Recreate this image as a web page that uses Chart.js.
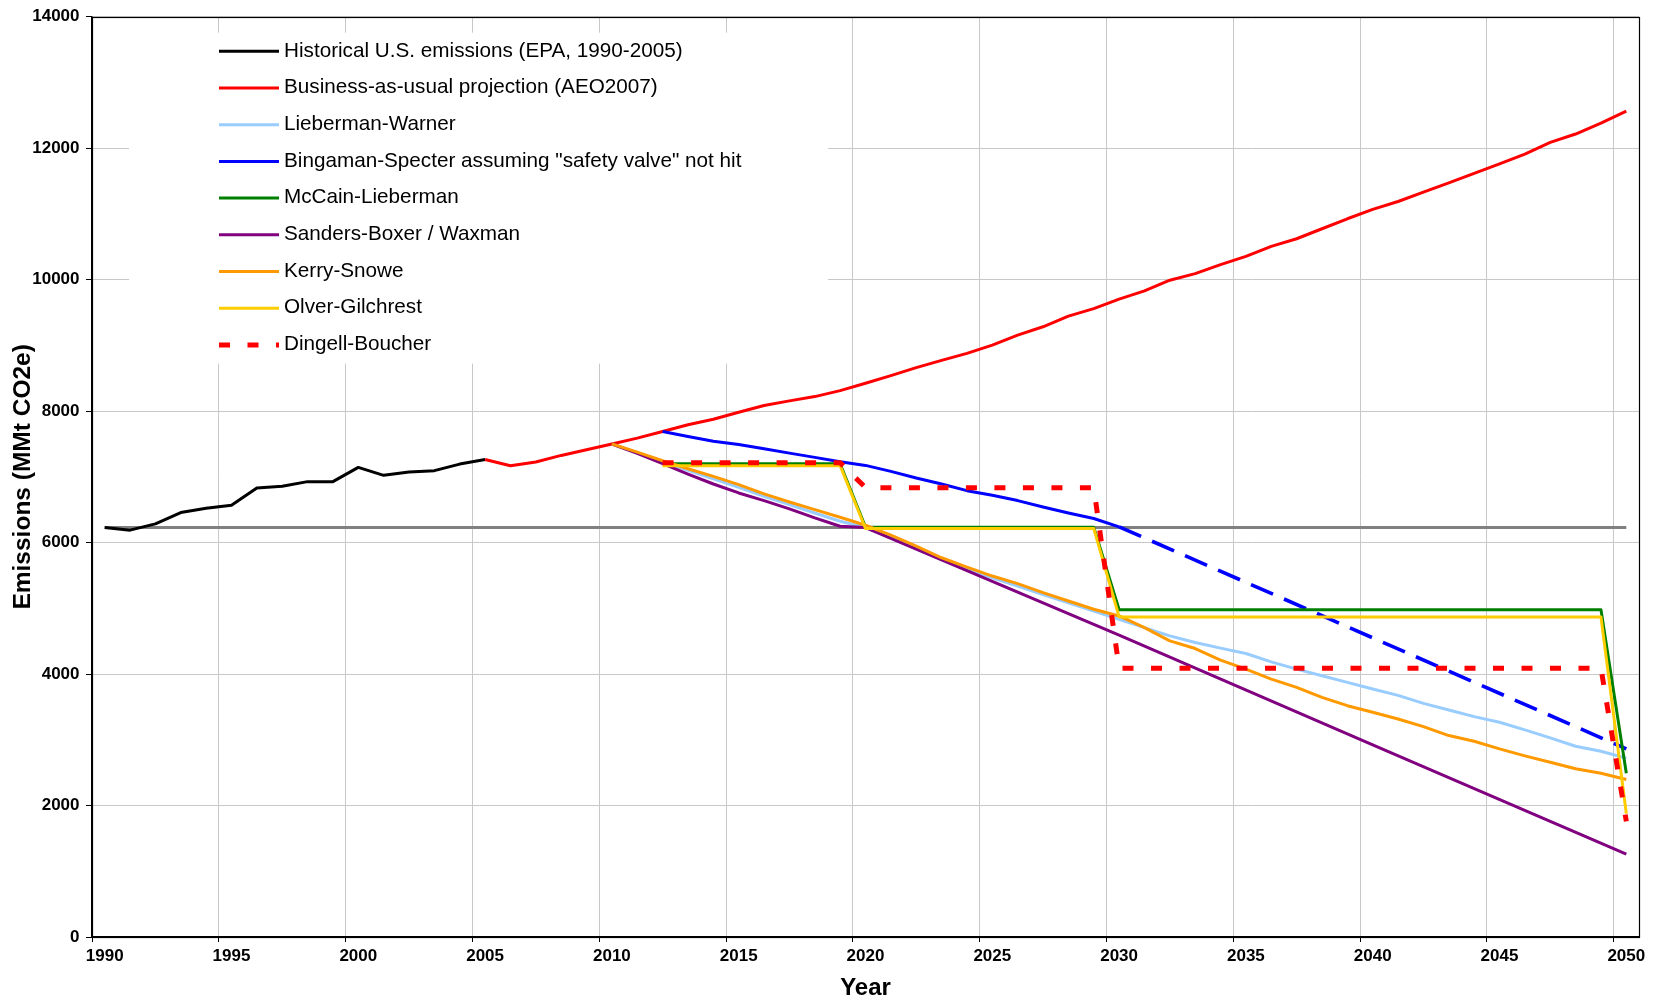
<!DOCTYPE html>
<html>
<head>
<meta charset="utf-8">
<script src="https://cdn.jsdelivr.net/npm/chart.js@4.4.0/dist/chart.umd.min.js"></script>
<style>
html,body{margin:0;padding:0;background:#ffffff;overflow:hidden}
#wrap{width:1655px;height:1001px;position:relative}
</style>
</head>
<body>
<div id="wrap"><canvas id="c" width="1655" height="1001"></canvas></div>
<script>
// ---------- DATA ----------
const categories = ['1990','1991','1992','1993','1994','1995','1996','1997','1998','1999',
  '2000','2001','2002','2003','2004','2005','2006','2007','2008','2009',
  '2010','2011','2012','2013','2014','2015','2016','2017','2018','2019',
  '2020','2021','2022','2023','2024','2025','2026','2027','2028','2029',
  '2030','2031','2032','2033','2034','2035','2036','2037','2038','2039',
  '2040','2041','2042','2043','2044','2045','2046','2047','2048','2049','2050'];

const baselineYears  = ['1990','2050'];
const baselineValues = [6229, 6229];

const historicalYears  = ['1990','1991','1992','1993','1994','1995','1996','1997','1998','1999','2000','2001','2002','2003','2004','2005'];
const historicalValues = [6229, 6189, 6284, 6457, 6522, 6568, 6830, 6856, 6927, 6927, 7144, 7023, 7073, 7094, 7194, 7265];

const bauYears  = ['2005','2006','2007','2008','2009','2010','2011','2012','2013','2014','2015','2016','2017','2018','2019',
  '2020','2021','2022','2023','2024','2025','2026','2027','2028','2029','2030','2031','2032','2033','2034','2035',
  '2036','2037','2038','2039','2040','2041','2042','2043','2044','2045','2046','2047','2048','2049','2050'];
const bauValues = [7265, 7170, 7225, 7326, 7412, 7500, 7589, 7690, 7792, 7877, 7983, 8085, 8156, 8221, 8312,
  8423, 8540, 8661, 8772, 8878, 9005, 9157, 9283, 9445, 9560, 9703, 9829, 9991, 10091, 10228, 10355,
  10507, 10622, 10774, 10926, 11068, 11189, 11330, 11471, 11618, 11760, 11911, 12089, 12215, 12381, 12565];

const lwYears  = ['2010','2011','2012','2013','2014','2015','2016','2017','2018','2019',
  '2020','2021','2022','2023','2024','2025','2026','2027','2028','2029',
  '2030','2031','2032','2033','2034','2035','2036','2037','2038','2039',
  '2040','2041','2042','2043','2044','2045','2046','2047','2048','2049','2050'];
const lwValues = [7500, 7365, 7232, 7100, 6968, 6840, 6705, 6578, 6450, 6325,
  6229, 6075, 5905, 5745, 5600, 5465, 5340, 5210, 5085, 4960,
  4834, 4707, 4581, 4479, 4394, 4313, 4186, 4075, 3974, 3873,
  3772, 3676, 3554, 3453, 3352, 3266, 3150, 3029, 2902, 2826, 2720];

const bsYears  = ['2012','2013','2014','2015','2016','2017','2018','2019','2020','2021',
  '2022','2023','2024','2025','2026','2027','2028','2029','2030','2050'];
const bsValues = [7690, 7614, 7543, 7493, 7427, 7361, 7296, 7230, 7174, 7083,
  6982, 6891, 6790, 6719, 6639, 6542, 6451, 6366, 6240, 2862];
const bsSafetyValveFrom = '2030';   // dashed part of the Bingaman-Specter line starts here

const mlYears  = ['2012','2019','2020','2029','2030','2049','2050'];
const mlValues = [7200, 7200, 6235, 6235, 4980, 4980, 2492];

const sbYears  = ['2010','2011','2012','2013','2014','2015','2016','2017','2018','2019','2020','2030','2040','2050'];
const sbValues = [7500, 7357, 7200, 7043, 6891, 6755, 6639, 6512, 6375, 6249, 6229, 4593, 2924, 1259];

const ksYears  = lwYears;
const ksValues = [7500, 7377, 7245, 7124, 7008, 6882, 6740, 6618, 6502, 6386,
  6264, 6113, 5946, 5769, 5627, 5491, 5375, 5238, 5112, 4986,
  4884, 4707, 4505, 4388, 4212, 4075, 3924, 3797, 3645, 3519,
  3418, 3317, 3200, 3064, 2978, 2862, 2756, 2659, 2559, 2492, 2395];

const ogYears  = ['2012','2019','2020','2029','2030','2049','2050'];
const ogValues = [7170, 7170, 6215, 6215, 4869, 4869, 1876];

const dbYears  = ['2012','2019','2020','2029','2030','2049','2050'];
const dbValues = [7215, 7215, 6836, 6836, 4090, 4090, 1760];

const yTickValues = [0, 2000, 4000, 6000, 8000, 10000, 12000, 14000];

// ---------- CHART ----------
const FONT = '"Liberation Sans", Arial, Helvetica, sans-serif';
Chart.defaults.font.family = FONT;
Chart.defaults.color = '#000';

function pts(years, values) { return years.map((y, k) => ({x: y, y: values[k]})); }

const base = {pointRadius: 0, pointHoverRadius: 0, tension: 0, fill: false,
  borderJoinStyle: 'round', borderCapStyle: 'butt'};

const datasets = [
  Object.assign({}, base, {label: 'baseline', legendSkip: true, data: pts(baselineYears, baselineValues),
    borderColor: '#808080', borderWidth: 3, order: 100}),
  Object.assign({}, base, {label: 'Historical U.S. emissions (EPA, 1990-2005)', data: pts(historicalYears, historicalValues),
    borderColor: '#000000', borderWidth: 3, order: 20}),
  Object.assign({}, base, {label: 'Business-as-usual projection (AEO2007)', data: pts(bauYears, bauValues),
    borderColor: '#FF0000', borderWidth: 3, order: 19}),
  Object.assign({}, base, {label: 'Lieberman-Warner', data: pts(lwYears, lwValues),
    borderColor: '#99CCFF', borderWidth: 3, order: 18}),
  Object.assign({}, base, {label: 'Bingaman-Specter assuming "safety valve" not hit', data: pts(bsYears, bsValues),
    borderColor: '#0000FF', borderWidth: 3, order: 17,
    segment: {
      borderDash: c => (bsYears[c.p0DataIndex] >= bsSafetyValveFrom ? [24, 12] : undefined),
      borderWidth: c => (bsYears[c.p0DataIndex] >= bsSafetyValveFrom ? 3.6 : undefined)
    }}),
  Object.assign({}, base, {label: 'McCain-Lieberman', data: pts(mlYears, mlValues),
    borderColor: '#008000', borderWidth: 3, order: 16}),
  Object.assign({}, base, {label: 'Sanders-Boxer / Waxman', data: pts(sbYears, sbValues),
    borderColor: '#800080', borderWidth: 3, order: 15}),
  Object.assign({}, base, {label: 'Kerry-Snowe', data: pts(ksYears, ksValues),
    borderColor: '#FF9900', borderWidth: 3, order: 14}),
  Object.assign({}, base, {label: 'Olver-Gilchrest', data: pts(ogYears, ogValues),
    borderColor: '#FFCC00', borderWidth: 3, order: 13}),
  Object.assign({}, base, {label: 'Dingell-Boucher', data: pts(dbYears, dbValues),
    borderColor: '#FF0000', borderWidth: 5, borderDash: [11, 17.5], borderJoinStyle: 'miter', order: 12})
];

const legendPlugin = {
  id: 'boxLegend',
  beforeDatasetsDraw(chart) {
    const ctx = chart.ctx;
    const a = chart.chartArea;
    ctx.save();
    // white legend panel covering the gridlines
    const bx = a.left + 37, by = a.top + 16, bw = 699, bh = 331;
    ctx.fillStyle = '#ffffff';
    ctx.fillRect(bx, by, bw, bh);
    const x0 = a.left + 127, x1 = a.left + 187, tx = a.left + 192;
    let row = 0;
    chart.data.datasets.forEach(ds => {
      if (ds.legendSkip) return;
      const y = a.top + 34.6 + row * 36.7;
      ctx.beginPath();
      ctx.setLineDash(ds.borderDash || []);
      ctx.lineWidth = ds.borderWidth;
      ctx.strokeStyle = ds.borderColor;
      ctx.lineCap = 'butt';
      ctx.moveTo(x0, y);
      ctx.lineTo(x1, y);
      ctx.stroke();
      ctx.setLineDash([]);
      ctx.fillStyle = '#000';
      ctx.font = '20.7px ' + FONT;
      ctx.textBaseline = 'middle';
      ctx.textAlign = 'left';
      ctx.fillText(ds.label, tx, y - 0.5);
      row++;
    });
    ctx.restore();
  },
  afterDatasetsDraw(chart) {
    const ctx = chart.ctx;
    const a = chart.chartArea;
    ctx.save();
    ctx.strokeStyle = '#000';
    ctx.lineWidth = 1.2;
    ctx.strokeRect(Math.round(a.left) + 0.5, Math.round(a.top) + 0.5,
      Math.round(a.right - a.left), Math.round(a.bottom - a.top));
    ctx.restore();
  }
};

const every5 = c => (c.tick && c.index % 5 === 0);

new Chart(document.getElementById('c'), {
  type: 'line',
  data: {labels: categories, datasets: datasets},
  options: {
    responsive: false,
    devicePixelRatio: 1,
    animation: false,
    events: [],
    layout: {padding: {left: 0, right: 16, top: 14, bottom: 0}},
    plugins: {legend: {display: false}, tooltip: {enabled: false}},
    scales: {
      x: {
        type: 'category',
        offset: true,
        grid: {
          offset: true,
          color: c => every5(c) ? '#c8c8c8' : 'rgba(0,0,0,0)',
          tickColor: c => every5(c) ? '#000' : 'rgba(0,0,0,0)',
          tickLength: 5,
          lineWidth: 1
        },
        border: {color: '#000', width: 2},
        ticks: {
          autoSkip: false, maxRotation: 0, minRotation: 0, padding: 4, color: '#000',
          font: {size: 17, weight: 'bold'},
          callback: (v, i) => (i % 5 === 0 ? categories[i] : '')
        },
        title: {display: true, text: 'Year', color: '#000',
          font: {size: 24, weight: 'bold', lineHeight: 1}, padding: {top: 0, bottom: 1}},
        afterFit: s => { s.height = 64; }
      },
      y: {
        min: yTickValues[0],
        max: yTickValues[yTickValues.length - 1],
        afterBuildTicks: s => { s.ticks = yTickValues.map(v => ({value: v})); },
        grid: {color: '#c8c8c8', tickColor: '#000', tickLength: 6, lineWidth: 1},
        border: {color: '#000', width: 1.5},
        ticks: {padding: 6.5, color: '#000', font: {size: 17, weight: 'bold'},
          callback: v => String(v)},
        title: {display: true, text: 'Emissions (MMt CO2e)', color: '#000',
          font: {size: 24.5, weight: 'bold', lineHeight: 1}, padding: {top: 10.75, bottom: 0}},
        afterFit: s => { s.width = 92; }
      }
    }
  },
  plugins: [legendPlugin]
});
</script>
</body>
</html>
